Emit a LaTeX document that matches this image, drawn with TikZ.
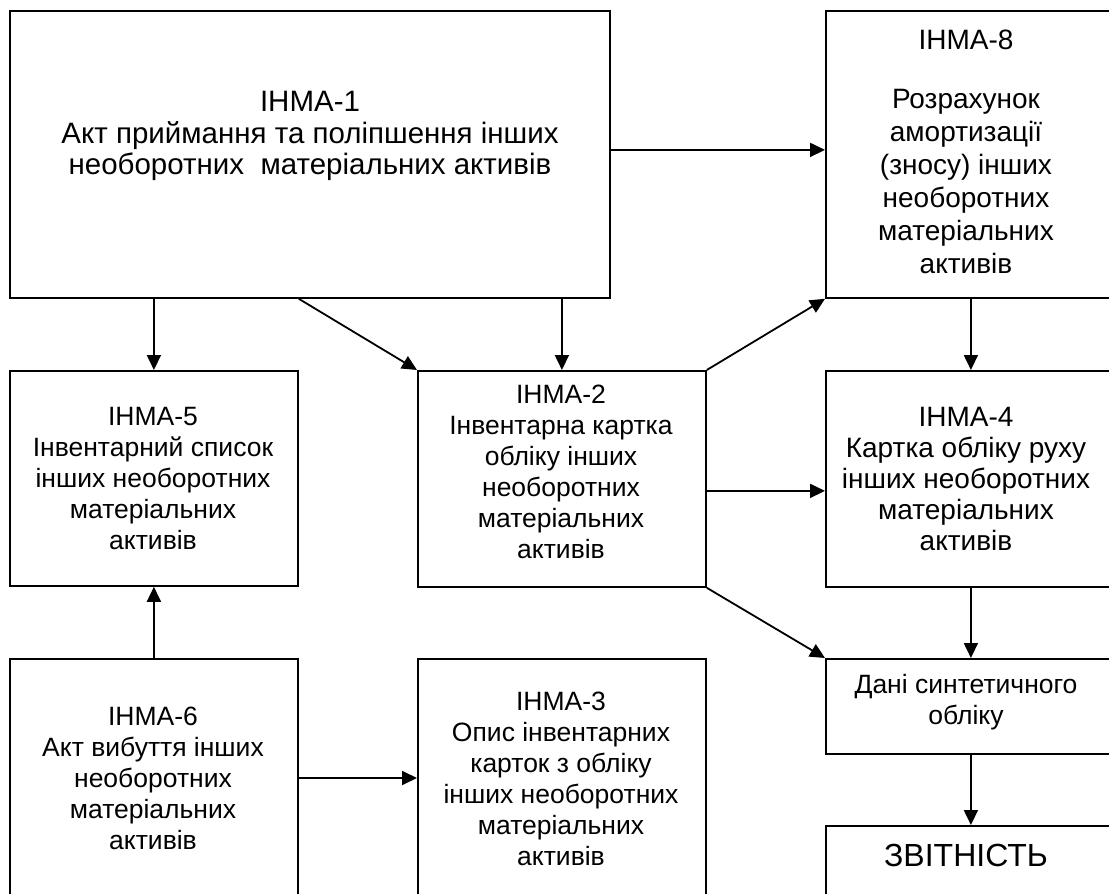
\documentclass[tikz,border=0pt]{standalone}
\usepackage{fontspec}
\setmainfont{Liberation Sans}
\usetikzlibrary{arrows.meta}
\begin{document}
\begin{tikzpicture}[x=1pt,y=-1pt,
  box/.style={draw, line width=1.8pt, rectangle, inner sep=0pt, anchor=north west},
  txt/.style={align=center, inner sep=0pt, font=\fontsize{26.5}{31}\selectfont},
  midtxt/.style={align=center, inner sep=0pt, font=\fontsize{28}{31}\selectfont},
  bigtxt/.style={align=center, inner sep=0pt, font=\fontsize{28}{33}\selectfont},
  headtxt/.style={align=center, inner sep=0pt, font=\fontsize{29.5}{31.5}\selectfont},
  arr/.style={line width=1.8pt, -{Triangle[length=15pt,width=14pt]}},
]
\useasboundingbox (0,0) rectangle (1109,894);
\clip (0,0) rectangle (1109,894);

% document boxes
\node[box, minimum width=600pt, minimum height=287pt] (b1) at (9,10) {};
\node[box, minimum width=290pt, minimum height=287pt] (b8) at (825,10) {};
\node[box, minimum width=288pt, minimum height=215pt] (b5) at (9,370) {};
\node[box, minimum width=288pt, minimum height=216pt] (b2) at (417,370) {};
\node[box, minimum width=290pt, minimum height=216pt] (b4) at (825,370) {};
\node[box, minimum width=288pt, minimum height=260pt] (b6) at (9,658) {};
\node[box, minimum width=288pt, minimum height=260pt] (b3) at (417,658) {};
\node[box, minimum width=290pt, minimum height=95pt] (bd) at (825,658) {};
\node[box, minimum width=290pt, minimum height=100pt] (bz) at (825,825) {};

% captions
\node[headtxt] (t1) at (310,136) {ІНМА-1\\Акт приймання та поліпшення інших\\необоротних\ \ матеріальних активів};
\node[bigtxt] (t8a) at (966,40) {ІНМА-8};
\node[bigtxt] (t8b) at (966,182) {Розрахунок\\амортизації\\(зносу) інших\\необоротних\\матеріальних\\активів};
\node[txt] (t5) at (153,478.5) {ІНМА-5\\Інвентарний список\\інших необоротних\\матеріальних\\активів};
\node[txt] (t2) at (561,472) {ІНМА-2\\Інвентарна картка\\обліку інших\\необоротних\\матеріальних\\активів};
\node[midtxt] (t4) at (966,478.5) {ІНМА-4\\Картка обліку руху\\інших необоротних\\матеріальних\\активів};
\node[txt] (t6) at (153,778) {ІНМА-6\\Акт вибуття інших\\необоротних\\матеріальних\\активів};
\node[txt] (t3) at (561,778.5) {ІНМА-3\\Опис інвентарних\\карток з обліку\\інших необоротних\\матеріальних\\активів};
\node[txt] (td) at (966,702) {Дані синтетичного\\обліку};
\node[align=center, inner sep=0pt, font=\fontsize{32}{38}\selectfont] (tz) at (966,855) {ЗВІТНІСТЬ};

% connectors
\draw[arr] ([yshift=4.5pt]b1.east) -- ([yshift=4.5pt]b8.west);
\draw[arr] (b5.north |- b1.south) -- (b5.north);
\draw[arr] (b5.east |- b1.south) -- (b2.north west);
\draw[arr] (b2.north |- b1.south) -- (b2.north);
\draw[arr] (b2.north east) -- (b8.south west);
\draw[arr] (b8.south) -- (b4.north);
\draw[arr] ([yshift=-12pt]b2.east) -- ([yshift=-12pt]b4.west);
\draw[arr] (b2.south east) -- (bd.north west);
\draw[arr] (b4.south) -- (bd.north);
\draw[arr] (bd.south) -- (bz.north);
\draw[arr] (b6.north) -- (b5.south);
\draw[arr] (b6.east |- 0,778) -- (b3.west |- 0,778);
\end{tikzpicture}
\end{document}
